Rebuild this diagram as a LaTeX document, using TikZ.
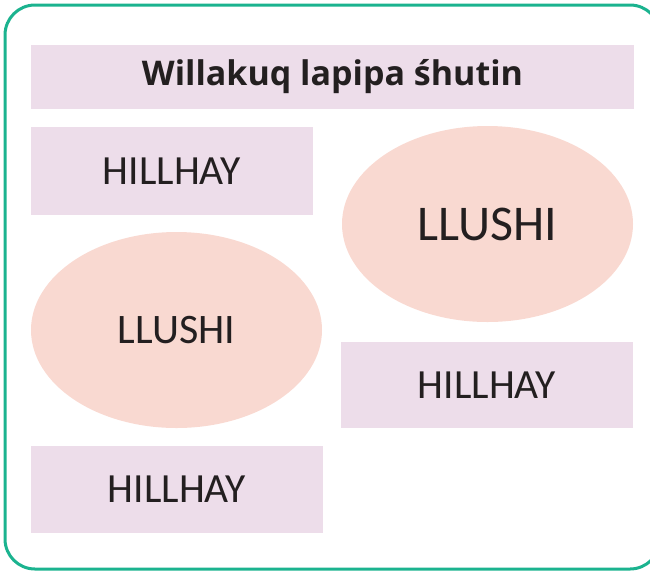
\documentclass[tikz,border=0pt]{standalone}
\usepackage{fontspec}
\setmainfont{Carlito}
\newfontfamily\titlefont{Open Sans}
\usetikzlibrary{shapes.geometric}
\definecolor{boxfill}{HTML}{EDDDEA}
\definecolor{ellfill}{HTML}{F9D9D1}
\definecolor{frame}{HTML}{1BB38F}
\definecolor{ink}{HTML}{231F20}
\tikzset{
  boxnode/.style={fill=boxfill, draw=none, inner sep=0pt, text=ink, font=\fontsize{41.5}{45}\selectfont},
  ellnode/.style={ellipse, fill=ellfill, draw=none, inner sep=0pt, text=ink},
}
\begin{document}
\begin{tikzpicture}[x=1pt,y=-1pt]
\useasboundingbox (0,0) rectangle (650,571);
\clip (0,0) rectangle (650,571);
\draw[frame, line width=3pt, rounded corners=30pt] (5,5) rectangle (660,569);
\node[boxnode, minimum width=603pt, minimum height=64pt, font=\titlefont\fontsize{34}{38}\selectfont\bfseries] (title) at (332.5,77) {Willakuq lapipa śhutin};
\node[boxnode, minimum width=282pt, minimum height=88pt] (h1) at (172,171) {HILLHAY};
\node[ellnode, minimum width=291pt, minimum height=196pt, font=\fontsize{50}{54}\selectfont] (e1) at (487.5,224) {LLUSHI};
\node[ellnode, minimum width=291pt, minimum height=196pt, font=\fontsize{42}{46}\selectfont] (e2) at (176.5,330) {LLUSHI};
\node[boxnode, minimum width=292pt, minimum height=86pt] (h2) at (487,385) {HILLHAY};
\node[boxnode, minimum width=292pt, minimum height=87pt] (h3) at (177,489.5) {HILLHAY};
\end{tikzpicture}
\end{document}
